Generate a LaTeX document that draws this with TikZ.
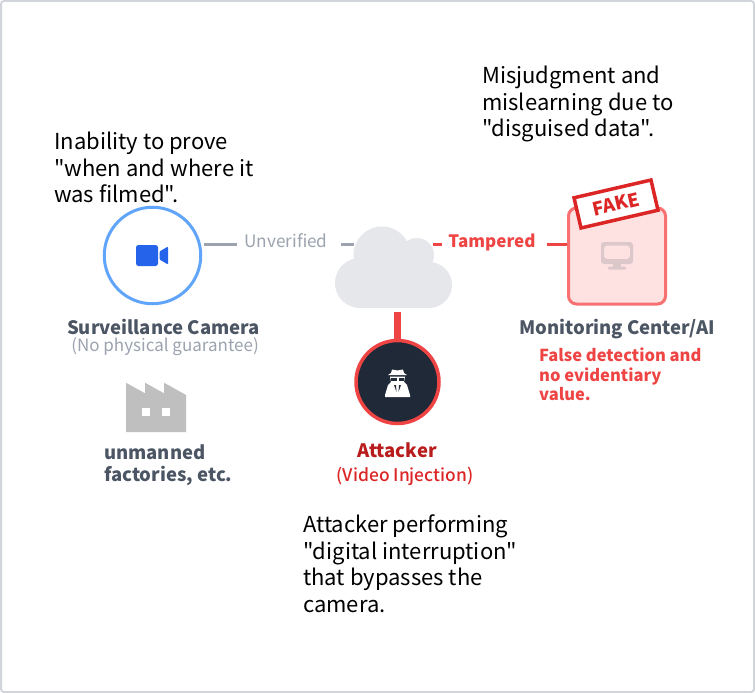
\documentclass[tikz,border=0pt]{standalone}
\usepackage{fontspec}
\setmainfont[Ligatures=TeXOff]{Noto Sans CJK KR}
\newfontfamily\mediumfont[Ligatures=TeXOff]{Noto Sans CJK KR Medium}
\newlength{\du}
\setlength{\du}{1pt}
\definecolor{framecolor}{HTML}{D1D5DB}
\definecolor{camcolor}{HTML}{60A5FA}
\definecolor{camiconcolor}{HTML}{2563EB}
\definecolor{mutedcolor}{HTML}{9CA3AF}
\definecolor{labelcolor}{HTML}{4B5563}
\definecolor{cloudcolor}{HTML}{E5E7EB}
\definecolor{redcolor}{HTML}{EF4444}
\definecolor{stampcolor}{HTML}{DC2626}
\definecolor{attackcolor}{HTML}{B91C1C}
\definecolor{darkcolor}{HTML}{1F2937}
\definecolor{boxcolor}{HTML}{FEE2E2}
\definecolor{boxlinecolor}{HTML}{F87171}
\definecolor{monitorcolor}{HTML}{DCC8CB}
\definecolor{factorycolor}{HTML}{BFBFBF}
\tikzset{
  note/.style={anchor=north west,align=left,inner sep=0pt,text=black,font=\fontsize{22}{26.6}\selectfont},
  title/.style={inner sep=0pt,text=labelcolor,font=\bfseries\fontsize{18.5}{22}\selectfont},
  wire/.style={line width=3\du,mutedcolor},
  redwire/.style={line width=3\du,redcolor},
}
\begin{document}
\begin{tikzpicture}
\pgftransformxscale{1.000000}
\pgftransformyscale{-1.000000}
\useasboundingbox (0\du,0\du) rectangle (755\du,693\du);
\draw[framecolor,line width=2\du,rounded corners=3\du,fill=white] (1\du,1\du) rectangle (754\du,692\du);
% notes
\node[note] (notecamera) at (54\du,132\du) {Inability to prove\\"when and where it\\was filmed".};
\node[note] (notecenter) at (482\du,66\du) {Misjudgment and\\mislearning due to\\"disguised data".};
\node[note] (noteattacker) at (303\du,514.5\du) {Attacker performing\\"digital interruption"\\that bypasses the\\camera.};
% camera
\node[circle,draw=camcolor,line width=3\du,fill=white,minimum size=96.5\du,inner sep=0pt] (camera) at (152.5\du,255.5\du) {};
\fill[camiconcolor,rounded corners=2.5\du] (136\du,245\du) rectangle (158\du,266\du);
\fill[camiconcolor,rounded corners=1\du] (159.5\du,251.5\du) -- (168\du,246.5\du) -- (168\du,264.5\du) -- (159.5\du,259.5\du) -- cycle;
\node[title] (cameratitle) at (163.5\du,327\du) {Surveillance Camera};
\node[inner sep=0pt,text=mutedcolor,font=\fontsize{17}{20}\selectfont] (camerasub) at (165\du,347\du) {(No physical guarantee)};
% factory
\fill[factorycolor] (126\du,382.7\du)--(145\du,393.3\du)--(145\du,382.7\du)--(164\du,393.3\du)--(164\du,382.7\du)--(186\du,395\du)--(186\du,432\du)--(126\du,432\du)--cycle;
\fill[white] (142\du,407.5\du) rectangle (150\du,415.5\du);
\fill[white] (162\du,407.5\du) rectangle (170\du,415.5\du);
\node[title,anchor=north west,align=left] (factorytitle) at (104\du,445\du) {unmanned\\factories, etc.};
% cloud
\node[minimum width=118\du,minimum height=82\du,inner sep=0pt] (cloud) at (393.5\du,267.5\du) {};
\node[inner sep=0pt,text=mutedcolor,font=\fontsize{17.2}{20}\selectfont] (unverified) at (286\du,241\du) {Unverified};
\node[inner sep=0pt,text=redcolor,font=\bfseries\fontsize{17}{20}\selectfont] (tampered) at (492\du,242.5\du) {Tampered};
\coordinate (camout) at (204\du,244\du);
\coordinate (cloudin) at (354\du,244\du);
\coordinate (cloudout) at (433\du,244\du);
\draw[wire] (camout) -- ([xshift=-7\du]unverified.west |- camout);
\draw[wire] ([xshift=13\du]unverified.east |- camout) -- (cloudin);
\draw[redwire] (cloudout) -- ([xshift=-6\du]tampered.west |- cloudout);
\fill[cloudcolor] (360\du,283\du) circle (25\du);
\fill[cloudcolor] (429\du,285\du) circle (23\du);
\fill[cloudcolor] (382\du,255\du) circle (28.5\du);
\fill[cloudcolor] (417\du,255\du) circle (17\du);
\fill[cloudcolor] (360\du,262\du) rectangle (429\du,308\du);
% monitoring center
\node[rectangle,rounded corners=8\du,draw=boxlinecolor,line width=3\du,fill=boxcolor,minimum width=97\du,minimum height=96\du,inner sep=0pt] (center) at (617\du,256\du) {};
\draw[redwire] ([xshift=11\du]tampered.east |- cloudout) -- (center.west |- cloudout);
\fill[monitorcolor,rounded corners=3\du,even odd rule] (601\du,242\du) rectangle (633\du,264\du) (604\du,245.5\du) rectangle (630\du,259\du);
\fill[monitorcolor] (613\du,264\du) rectangle (621\du,267\du);
\fill[monitorcolor,rounded corners=1\du] (608\du,266.5\du) rectangle (626\du,269.5\du);
\node[draw=stampcolor,line width=3.5\du,fill=white,rotate=13,minimum width=79\du,minimum height=31\du,inner sep=0pt,text=stampcolor,font=\bfseries\fontsize{18.5}{22}\selectfont] (fake) at (616\du,204\du) {FAKE};
\node[title] (centertitle) at (617\du,329\du) {Monitoring Center/AI};
\node[anchor=north west,align=left,inner sep=0pt,text=redcolor,font=\bfseries\fontsize{16.5}{19.5}\selectfont] (centersub) at (539\du,348\du) {False detection and\\no evidentiary\\value.};
% attacker
\node[circle,draw=redcolor,line width=3.5\du,fill=darkcolor,minimum size=83\du,inner sep=0pt] (attacker) at (397.5\du,382\du) {};
\coordinate (cloudbottom) at (397.5\du,312\du);
\draw[redcolor,line width=7\du] (cloudbottom) -- (attacker.north);
\fill[white] (391\du,373\du) -- (392\du,369.5\du) -- (397.5\du,370.5\du) -- (403\du,369.5\du) -- (404\du,373\du) -- (407\du,375\du) -- (388\du,375\du) -- cycle;
\fill[white] (390\du,376.5\du) -- (405\du,376.5\du) -- (404\du,382\du) -- (407\du,385\du) -- (410\du,395\du) -- (410\du,397\du) -- (385\du,397\du) -- (385\du,395\du) -- (388\du,385\du) -- (391\du,382\du) -- cycle;
\fill[darkcolor] (391\du,378\du) rectangle (396.5\du,380.5\du);
\fill[darkcolor] (398.5\du,378\du) rectangle (404\du,380.5\du);
\fill[darkcolor] (394\du,385\du) -- (396\du,385\du) -- (396.5\du,392\du) -- cycle;
\fill[darkcolor] (401\du,385\du) -- (399\du,385\du) -- (398.5\du,392\du) -- cycle;
\node[inner sep=0pt,text=attackcolor,font=\bfseries\fontsize{18.5}{22}\selectfont] (attackertitle) at (397\du,450\du) {Attacker};
\node[inner sep=0pt,text=stampcolor,font=\mediumfont\fontsize{17.4}{20}\selectfont] (attackersub) at (405\du,476\du) {(Video Injection)};
\end{tikzpicture}
\end{document}
